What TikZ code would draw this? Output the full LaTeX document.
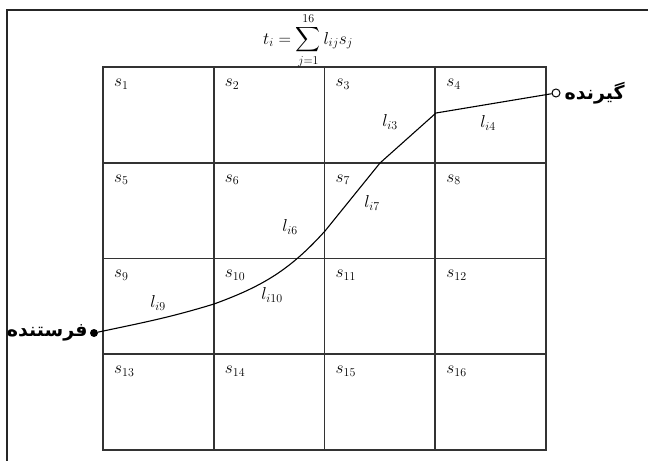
\documentclass[tikz,border=0pt]{standalone}
\usepackage{amsmath}
\usepackage{fontspec}
\newfontfamily\farsi[Script=Arabic]{DejaVu Sans}
\TeXXeTstate=1
\begin{document}
\begin{tikzpicture}[x=1pt,y=1pt,font=\LARGE,
  cell/.style={draw=black!80,line width=1.7pt},
  lbl/.style={anchor=west,inner sep=0pt},
  seg/.style={inner sep=1pt},
  fa/.style={font=\fontsize{19}{22}\farsi\bfseries,inner sep=1pt},
  ray/.style={line width=1.1pt}]
  \useasboundingbox (0,0) rectangle (648,461);
  \draw[line width=1.8pt,black!85] (648,451) -- (7,451) -- (7,0);
  \foreach \r in {0,...,3}{\foreach \c in {0,...,3}{
    \pgfmathtruncatemacro{\k}{4*\r+\c+1}
    \draw[cell] (103+110.75*\c,394-95.75*\r) rectangle ++(110.75,-95.75);
    \node[lbl] (s\k) at (114+110.75*\c,377-95.75*\r) {$s_{\k}$};
  }}
  \node (sum) at (308,420) {$\displaystyle t_i=\sum_{j=1}^{16} l_{ij}s_j$};
  \node[circle,fill=black,inner sep=0pt,minimum size=8pt] (snd) at (94,128) {};
  \node[circle,draw=black,line width=1pt,inner sep=0pt,minimum size=8pt] (rcv) at (556,368) {};
  \coordinate (c1) at (214,157);
  \coordinate (c3) at (325,230);
  \coordinate (c4) at (380,298);
  \coordinate (c5) at (436,348);
  \draw[ray] (snd) to[out=12,in=197] (c1) to[out=20,in=228] (c3) -- (c4) -- (c5) -- (rcv);
  \node[fa,anchor=west,xshift=3pt] (rtx) at (rcv.east) {\beginR گیرنده\endR};
  \node[fa,anchor=east,xshift=-1pt] (stx) at (snd.west) {\beginR فرستنده\endR};
  \node[seg] (l9) at (158,158) {$l_{i9}$};
  \node[seg] (l10) at (272,166) {$l_{i10}$};
  \node[seg] (l6) at (290,234) {$l_{i6}$};
  \node[seg] (l7) at (372,258) {$l_{i7}$};
  \node[seg] (l3) at (390,339) {$l_{i3}$};
  \node[seg] (l4) at (488,338) {$l_{i4}$};
\end{tikzpicture}
\end{document}
